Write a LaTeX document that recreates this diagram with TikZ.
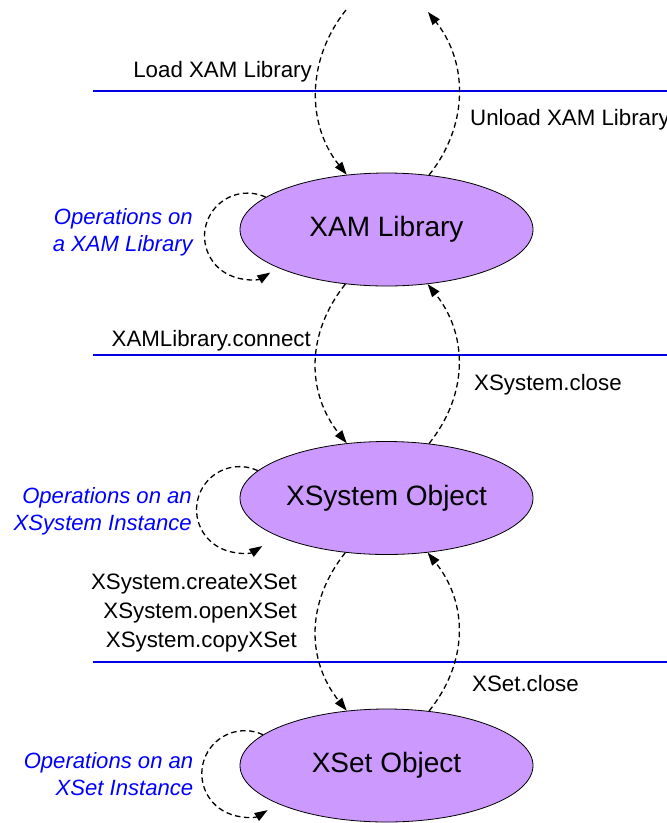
\documentclass[tikz,border=0pt]{standalone}
\usepackage{fontspec}
\setmainfont{Liberation Sans}
\usetikzlibrary{arrows.meta,shapes.geometric}
\definecolor{statefill}{RGB}{204,153,255}
\definecolor{sepblue}{RGB}{0,0,230}
\definecolor{opblue}{RGB}{0,0,255}
\tikzset{
  state/.style={ellipse, draw=black, line width=0.8pt, fill=statefill, inner sep=0pt,
    minimum width=293pt, minimum height=113pt, font=\fontsize{28}{34}\selectfont},
  sepline/.style={draw=sepblue, line width=1.2pt},
  trans/.style={draw=black, line width=1.3pt, dash pattern=on 5.5pt off 3.5pt,
    -{Triangle[length=13pt,width=9pt]}},
  lbl/.style={inner sep=0pt, font=\fontsize{22.3}{29}\selectfont},
  oplbl/.style={inner sep=0pt, text=opblue, align=right, font=\fontsize{22.1}{26.7}\selectfont\itshape},
}
\begin{document}
\begin{tikzpicture}[x=1pt,y=-1pt]
\useasboundingbox (0,0) rectangle (667,823);
% separator lines
\coordinate (s1a) at (93,91);  \coordinate (s1b) at (667,91);
\coordinate (s2a) at (93,355); \coordinate (s2b) at (667,355);
\coordinate (s3a) at (93,662); \coordinate (s3b) at (667,662);
\draw[sepline] (s1a) -- (s1b);
\draw[sepline] (s2a) -- (s2b);
\draw[sepline] (s3a) -- (s3b);
% states
\node[state] (e1) at (386.5,229.5) {XAM Library};
\node[state] (e2) at (386.5,498) {XSystem Object};
\node[state] (e3) at (386.5,765.5) {XSet Object};
% free ends at top
\coordinate (t1) at (346,10);
\coordinate (t2) at (428,12);
% transitions
\draw[trans] (t1) .. controls +(-40,50) and +(-40,-50) .. (e1.126.7);
\draw[trans] (e1.52.6) .. controls +(40,-50) and +(40,50) .. (t2);
\draw[trans] (e1.233.3) .. controls +(-40,50) and +(-40,-50) .. (e2.126.7);
\draw[trans] (e2.52.6) .. controls +(40,-50) and +(40,50) .. (e1.307.4);
\draw[trans] (e2.233.3) .. controls +(-40,50) and +(-40,-50) .. (e3.126.7);
\draw[trans] (e3.52.6) .. controls +(40,-50) and +(40,50) .. (e2.307.4);
% self loops
\draw[trans] (e1.165) arc[start angle=65, end angle=302, radius=43pt];
\draw[trans] (e2.168) arc[start angle=65, end angle=302, radius=43pt];
\draw[trans] (e3.166) arc[start angle=65, end angle=302, radius=43pt];
% transition labels
\node[lbl, anchor=base east] (l1) at (312,77) {Load XAM Library};
\node[lbl, anchor=base west] (l2) at (470,125) {Unload XAM Library};
\node[lbl, anchor=base east] (l3) at (311,346) {XAMLibrary.connect};
\node[lbl, anchor=base west] (l4) at (474,390) {XSystem.close};
\node[lbl, anchor=base east, align=right] (l5) at (297,647) {XSystem.createXSet\\XSystem.openXSet\\XSystem.copyXSet};
\node[lbl, anchor=base west] (l6) at (472,691) {XSet.close};
% operation labels
\node[oplbl, anchor=base east] (o1) at (193,251) {Operations on\\a XAM Library};
\node[oplbl, anchor=base east] (o2) at (192,530) {Operations on an\\XSystem Instance};
\node[oplbl, anchor=base east] (o3) at (193.5,795) {Operations on an\\XSet Instance};
\end{tikzpicture}
\end{document}
